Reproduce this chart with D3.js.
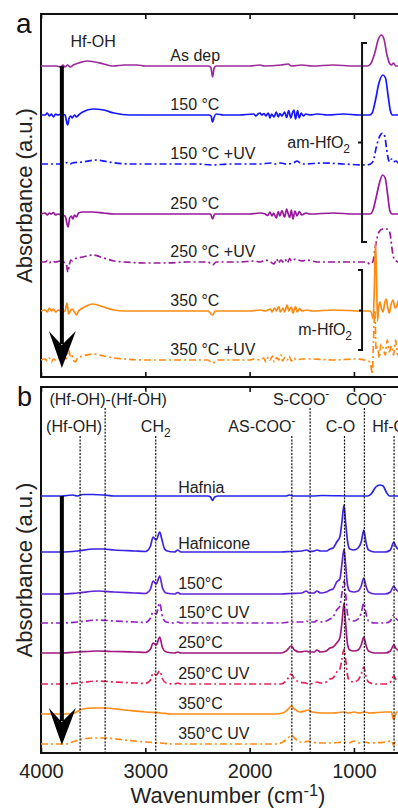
<!DOCTYPE html>
<html>
<head>
<meta charset="utf-8">
<script src="https://cdn.jsdelivr.net/npm/d3@7.9.0/dist/d3.min.js"></script>
<style>
  body { margin: 0; background: #fff; }
  svg { display: block; font-family: 'Liberation Sans', Arial, sans-serif; }
</style>
</head>
<body>
<svg id="chart"></svg>
<script>
// ---- panel a : [wavenumber, absorbance] ----
const asDep = [[4000,0],[3850,0],[3810,-0.01],[3790,0.01],[3770,-0.01],[3745,0.01],[3720,-0.01],[3690,0.01],[3640,0.03],[3560,0.05],[3480,0.04],[3400,0.02],[3310,0],[3200,0.01],[3080,0.01],[3000,0],[2500,0],[2390,0],[2370,-0.02],[2355,-0.11],[2340,-0.02],[2320,0],[2000,0],[1900,0.01],[1860,0],[1700,0.01],[1630,0.02],[1600,0],[1500,0.01],[1400,0],[1200,0.01],[1000,0],[870,0],[840,0.02],[800,0.13],[765,0.27],[738,0.31],[712,0.27],[685,0.12],[660,0.03],[640,0.01],[620,0.03],[600,0],[400,0]];
const a150 = [[4000,0],[3960,0],[3940,0.02],[3920,-0.01],[3900,0.01],[3880,-0.02],[3860,0.01],[3840,0],[3800,0.01],[3770,0],[3745,-0.10],[3730,-0.03],[3715,-0.01],[3700,-0.03],[3680,0],[3660,-0.02],[3640,0],[3600,0.03],[3500,0.06],[3400,0.05],[3300,0.02],[3150,0],[2600,0],[2390,0],[2370,-0.01],[2355,-0.07],[2340,-0.02],[2320,0.01],[2250,0],[2100,0],[1960,0.01],[1940,-0.01],[1920,0.01],[1900,0.02],[1885,0],[1860,0.015],[1845,-0.01],[1820,0.02],[1805,-0.03],[1790,0.01],[1765,-0.02],[1745,0.03],[1725,-0.02],[1710,0.015],[1690,-0.01],[1665,0.03],[1645,-0.025],[1625,0.045],[1605,-0.03],[1590,0.02],[1575,0.05],[1560,-0.04],[1540,0.045],[1525,-0.03],[1505,0.02],[1485,-0.01],[1460,0.01],[1420,0],[1350,0.01],[1250,0],[1100,0.01],[950,0],[850,0],[825,0.02],[795,0.14],[760,0.32],[722,0.40],[697,0.37],[672,0.19],[650,0.04],[630,0],[400,0]];
const a150uv = [[4000,0],[3900,0],[3780,0],[3765,0.01],[3745,0.015],[3720,0],[3700,0.01],[3600,0.02],[3470,0.04],[3350,0.02],[3150,0],[2500,0],[2355,-0.01],[2200,0],[1900,0],[1800,0.01],[1760,0],[1700,0.01],[1650,0],[1580,0.01],[1545,0.03],[1515,0.01],[1480,0],[1300,0.01],[1100,0],[880,-0.01],[840,0],[815,0.03],[785,0.17],[752,0.28],[725,0.31],[705,0.28],[685,0.14],[668,0.04],[655,0.02],[640,0.05],[622,0.02],[600,0.03],[560,0],[400,0]];
const a250 = [[4000,0],[3960,0.01],[3940,-0.01],[3920,0.01],[3900,0],[3880,0.015],[3860,-0.01],[3840,0],[3800,-0.01],[3770,-0.02],[3740,-0.13],[3725,-0.04],[3710,-0.02],[3695,-0.05],[3680,-0.01],[3660,-0.03],[3640,0.01],[3600,0.02],[3500,0.02],[3400,0.01],[3300,0],[2400,0],[2375,0],[2355,-0.05],[2335,0],[2000,0],[1900,0.01],[1850,0],[1825,-0.015],[1805,0.02],[1785,-0.02],[1770,0.01],[1745,-0.04],[1725,0.025],[1710,-0.02],[1690,0.035],[1665,-0.03],[1645,0.05],[1630,0],[1615,-0.035],[1600,0.04],[1585,-0.05],[1565,0.03],[1545,-0.02],[1525,0.025],[1500,-0.01],[1460,0.01],[1420,0],[1200,0.01],[1000,0],[845,0],[820,0.03],[790,0.15],[758,0.30],[725,0.39],[700,0.36],[675,0.18],[655,0.03],[635,0],[400,0]];
const a250uv = [[4000,0],[3960,0],[3940,0.015],[3920,-0.01],[3900,0.01],[3860,0],[3820,0.01],[3790,0],[3760,-0.01],[3742,-0.10],[3728,-0.03],[3715,0.02],[3700,0.01],[3680,0.03],[3600,0.05],[3500,0.07],[3400,0.04],[3300,0.01],[3200,0],[3000,-0.01],[2800,-0.01],[2600,0],[2400,0],[2355,-0.03],[2320,0],[2100,0],[1950,0.01],[1900,0],[1850,0.02],[1800,0],[1765,-0.02],[1740,0.03],[1725,-0.01],[1700,0.02],[1680,0],[1660,0.03],[1640,-0.01],[1615,0.035],[1600,0.01],[1560,0.03],[1500,0.01],[1450,0.02],[1350,0],[1200,0],[880,0],[845,-0.02],[820,0],[790,0.18],[760,0.30],[725,0.33],[680,0.33],[655,0.29],[630,0.10],[610,0.02],[560,0],[400,0]];
const a350 = [[4000,0],[3960,0.01],[3940,-0.01],[3920,0.03],[3900,0],[3880,0.02],[3860,-0.01],[3830,0.01],[3800,-0.01],[3770,0],[3750,0.08],[3735,-0.03],[3720,0],[3700,0.02],[3680,-0.01],[3660,-0.04],[3640,0],[3600,0.03],[3500,0.07],[3400,0.04],[3300,0.01],[3200,0],[2400,0],[2355,-0.04],[2330,0],[2000,0],[1900,0.01],[1850,0],[1800,0.02],[1785,-0.01],[1760,0.03],[1745,0],[1720,0.045],[1705,-0.01],[1680,0.03],[1665,-0.01],[1640,0.06],[1625,0],[1600,0.04],[1585,-0.02],[1560,0.045],[1545,-0.01],[1520,0.025],[1500,0],[1450,0.01],[1400,0],[1200,0.01],[900,0],[845,0],[828,-0.03],[815,-0.08],[805,0.2],[793,0.69],[783,0.3],[773,-0.1],[763,0.04],[750,0.09],[735,0.02],[720,-0.01],[705,0.08],[690,0.12],[675,0.03],[660,-0.02],[645,0.06],[625,0.11],[605,0.03],[590,0.05],[575,0.1],[560,0.05],[400,0]];
const a350uv = [[4000,0],[3960,0.01],[3940,-0.01],[3920,0.02],[3900,-0.02],[3880,0.01],[3860,0],[3840,0.02],[3800,0],[3780,0.03],[3760,0.01],[3735,0.1],[3720,0.04],[3705,0.06],[3690,0],[3670,-0.02],[3650,0.02],[3600,0.04],[3500,0.06],[3400,0.04],[3300,0.02],[3200,0.01],[3000,0],[2400,0],[2355,-0.03],[2300,0],[2000,0],[1950,0.01],[1900,0],[1865,0.02],[1845,-0.02],[1820,0.03],[1805,0],[1780,0.04],[1765,-0.02],[1740,0.025],[1720,0],[1700,0.05],[1685,-0.01],[1660,0.03],[1640,0],[1620,0.04],[1600,-0.01],[1580,0.02],[1550,0],[1500,0.01],[1400,0.01],[1200,0],[1000,0.01],[900,0],[860,-0.01],[838,-0.05],[825,-0.14],[812,0.2],[800,0.5],[787,0.1],[772,0.13],[757,0.02],[740,0.16],[720,0.12],[700,0.05],[680,0.2],[660,0.08],[640,0.14],[620,0.05],[600,0.2],[580,0.05],[560,0.08],[400,0]];

const namesA = ['As dep', '150 °C', '150 °C +UV', '250 °C', '250 °C +UV', '350 °C', '350 °C +UV'];
const seriesA = [asDep, a150, a150uv, a250, a250uv, a350, a350uv];
const offsetA = [3.11, 2.62, 2.13, 1.63, 1.15, 0.66, 0.17];
const colorA = ['#9b2b9b', '#1616ff', '#1616ff', '#99199c', '#99199c', '#ff8a12', '#ff8a12'];
const dashA = [false, false, true, false, true, false, true];

// ---- panel b ----
const hafnia = [[4000,0],[3800,0],[3700,0.01],[3650,0],[3600,0.015],[3500,0.015],[3400,0.01],[3300,0],[2400,0],[2375,-0.01],[2355,-0.045],[2335,-0.01],[2300,0],[1650,0],[1620,0.01],[1580,0],[1400,0],[1300,0.005],[1000,0],[870,0],[835,0.02],[790,0.09],[750,0.11],[720,0.10],[690,0.04],[660,0],[400,0]];
const hafnicone = [[4000,0],[3800,0],[3650,0.01],[3500,0.03],[3400,0.03],[3300,0.02],[3100,0.01],[3000,0.005],[2985,0.01],[2950,0.06],[2925,0.15],[2895,0.12],[2862,0.20],[2840,0.12],[2815,0.03],[2790,0.01],[2720,0],[2688,0.02],[2660,0],[2300,0],[1700,0],[1600,0.005],[1500,0.01],[1455,0.02],[1420,0.005],[1380,0.01],[1355,0.02],[1320,0.01],[1260,0.01],[1230,0.03],[1200,0.04],[1165,0.10],[1135,0.15],[1115,0.3],[1095,0.47],[1080,0.3],[1060,0.1],[1040,0.03],[1000,0.02],[960,0.04],[930,0.1],[905,0.22],[885,0.1],[860,0.02],[800,0],[700,0],[650,0.02],[618,0.1],[600,0.06],[560,0.02],[400,0]];
const b150 = [[4000,0],[3800,0],[3650,0.01],[3450,0.03],[3300,0.02],[3100,0.01],[3000,0.005],[2985,0.01],[2950,0.05],[2925,0.13],[2895,0.10],[2862,0.18],[2835,0.06],[2800,0.01],[2720,0],[2688,0.015],[2660,0],[2000,0],[1700,0],[1600,0.005],[1500,0.01],[1455,0.03],[1430,0.01],[1380,0.01],[1355,0.03],[1320,0.01],[1265,0.02],[1230,0.04],[1200,0.05],[1165,0.12],[1135,0.15],[1115,0.3],[1095,0.45],[1080,0.3],[1060,0.08],[1040,0.03],[1000,0.02],[960,0.03],[930,0.08],[905,0.16],[885,0.08],[860,0.02],[800,0],[700,0],[650,0.02],[618,0.08],[600,0.05],[560,0.02],[400,0]];
const b150uv = [[4000,0],[3800,0],[3650,0.01],[3450,0.03],[3300,0.02],[3100,0.01],[3000,0.005],[2985,0.01],[2950,0.05],[2925,0.11],[2895,0.09],[2862,0.20],[2835,0.06],[2800,0.01],[2720,0],[2688,0.01],[2660,0],[2000,0],[1700,0],[1600,0.01],[1500,0.01],[1455,0.02],[1430,0.01],[1380,0.01],[1355,0.025],[1320,0.01],[1265,0.02],[1230,0.04],[1200,0.06],[1165,0.13],[1135,0.17],[1115,0.3],[1095,0.42],[1080,0.3],[1060,0.08],[1040,0.03],[1000,0.02],[960,0.04],[930,0.1],[905,0.2],[885,0.1],[860,0.02],[800,0],[700,0],[650,0.02],[618,0.08],[600,0.05],[560,0.02],[400,0]];
const b250 = [[4000,0],[3800,0],[3650,0.01],[3450,0.02],[3300,0.015],[3100,0.01],[3000,0.005],[2985,0.01],[2950,0.04],[2925,0.10],[2895,0.08],[2862,0.16],[2835,0.05],[2800,0.01],[2720,0],[2688,0.01],[2660,0],[2000,0],[1700,0],[1650,0.02],[1600,0.07],[1570,0.03],[1520,0.01],[1455,0.02],[1430,0.01],[1380,0.01],[1355,0.03],[1320,0.01],[1265,0.02],[1230,0.05],[1200,0.06],[1165,0.1],[1135,0.15],[1115,0.3],[1095,0.5],[1080,0.3],[1060,0.08],[1040,0.03],[1000,0.02],[960,0.03],[930,0.08],[905,0.16],[885,0.08],[860,0.02],[800,0],[700,0],[650,0.02],[618,0.08],[600,0.05],[560,0.02],[400,0]];
const b250uv = [[4000,0],[3800,0],[3650,0.01],[3450,0.03],[3300,0.02],[3100,0.01],[3000,0.005],[2985,0.01],[2950,0.04],[2925,0.11],[2895,0.09],[2862,0.13],[2835,0.05],[2800,0.01],[2720,0],[2688,0.01],[2660,0],[2000,0],[1700,0],[1650,0.03],[1600,0.10],[1570,0.05],[1520,0.02],[1460,0.01],[1430,0],[1380,0.01],[1355,0.02],[1320,0.01],[1265,0.02],[1230,0.05],[1200,0.06],[1165,0.12],[1135,0.15],[1115,0.25],[1095,0.35],[1080,0.25],[1060,0.08],[1040,0.03],[1000,0.02],[960,0.04],[930,0.1],[905,0.17],[885,0.08],[860,0.02],[800,0],[700,0],[650,0.02],[618,0.08],[600,0.05],[560,0.02],[400,0]];
const b350 = [[4000,0],[3750,0],[3680,0.01],[3600,0.05],[3500,0.06],[3400,0.06],[3200,0.04],[3000,0.02],[2850,0.01],[2750,0],[2000,0],[1750,0],[1680,0.01],[1630,0.05],[1600,0.08],[1570,0.05],[1520,0.02],[1470,0.03],[1440,0.04],[1400,0.02],[1300,0.01],[1200,0.01],[1100,0.02],[1050,0.01],[1000,0.02],[950,0.01],[900,0.02],[850,0.01],[700,0.02],[640,0.02],[622,-0.05],[605,-0.02],[590,0.02],[400,0]];
const b350uv = [[4000,0],[3760,0],[3700,0.02],[3600,0.05],[3500,0.06],[3400,0.06],[3200,0.04],[3000,0.02],[2850,0.01],[2750,0],[2000,0],[1750,0],[1680,0.02],[1630,0.06],[1600,0.09],[1570,0.06],[1520,0.02],[1470,0.02],[1440,0.03],[1400,0.02],[1300,0.01],[1200,0.01],[1100,0.02],[1050,0.01],[1000,0.03],[950,0.01],[900,0.02],[850,0.01],[700,0.02],[640,0.03],[620,-0.01],[605,0.02],[400,0]];

const namesB = ['Hafnia', 'Hafnicone', '150°C', '150°C UV', '250°C', '250°C UV', '350°C', '350°C UV'];
const seriesB = [hafnia, hafnicone, b150, b150uv, b250, b250uv, b350, b350uv];
const offsetB = [2.57, 2.01, 1.59, 1.30, 1.00, 0.69, 0.39, 0.09];
const colorB = ['#2424e8', '#3a24e2', '#5e24d8', '#9420c2', '#a3177f', '#e3245a', '#ff8c1a', '#ff8c1a'];
const dashB = [false, false, false, true, false, true, false, true];

// band assignments (dotted lines in b)
const bandWn = [3625, 3385, 2900, 1595, 1420, 1090, 900, 615];
const tickValues = [4000, 3000, 2000, 1000];

const width = 398, height = 808;
const svg = d3.select('#chart').attr('width', width).attr('height', height);

const x = d3.scaleLinear().domain([4000, 400]).range([41, 416.5]);
const yA = d3.scaleLinear().domain([0, 3.63]).range([377, 14]);
const yB = d3.scaleLinear().domain([0, 3.66]).range([753, 387]);

function richText(sel, parts) {
  parts.forEach((p) => {
    const t = sel.append('tspan').text(p.t);
    if (p.sub) t.attr('font-size', '0.75em').attr('dy', 5);
    if (p.sup) t.attr('font-size', '0.75em').attr('dy', -7);
    if (p.back) t.attr('dy', p.back);
  });
}

function drawFrame(y, showLabels) {
  const [y0, y1] = y.range();
  svg.append('rect')
    .attr('x', x(4000)).attr('y', y1)
    .attr('width', 420).attr('height', y0 - y1)
    .attr('fill', 'none').attr('stroke', '#111').attr('stroke-width', 2);

  const bottom = svg.append('g').attr('transform', `translate(0,${y0})`)
    .call(d3.axisBottom(x).tickValues(tickValues).tickSizeInner(-5).tickSizeOuter(0).tickPadding(11)
      .tickFormat(showLabels ? d3.format('d') : ''));
  const top = svg.append('g').attr('transform', `translate(0,${y1})`)
    .call(d3.axisTop(x).tickValues(tickValues).tickSizeInner(-5).tickSizeOuter(0).tickFormat(''));
  [bottom, top].forEach((g) => {
    g.select('.domain').remove();
    g.selectAll('line').attr('stroke', '#111').attr('stroke-width', 1.6);
    g.selectAll('text').attr('font-size', 20).attr('fill', '#222').attr('font-family', 'Liberation Sans, Arial, sans-serif');
  });

  svg.append('text')
    .attr('transform', `translate(32,${(y0 + y1) / 2}) rotate(-90)`)
    .attr('text-anchor', 'middle').attr('font-size', 22).attr('fill', '#222')
    .text('Absorbance (a.u.)');
}

function drawTraces(y, series, offsets, colors, dashes) {
  const line = d3.line().x((d) => x(d[0])).y((d) => y(d[1])).curve(d3.curveMonotoneX);
  svg.append('g').selectAll('path')
    .data(series.map((s, i) => ({ pts: s.map((p) => [p[0], p[1] + offsets[i]]), i })))
    .join('path')
    .attr('d', (d) => line(d.pts))
    .attr('fill', 'none')
    .attr('stroke', (d) => colors[d.i])
    .attr('stroke-width', 1.7)
    .attr('stroke-dasharray', (d) => (dashes[d.i] ? '7,3,2,3' : null));
}

function drawArrow(y0, yTip) {
  const ax = x(3800);
  svg.append('line')
    .attr('x1', ax).attr('x2', ax).attr('y1', y0).attr('y2', yTip - 24)
    .attr('stroke', '#000').attr('stroke-width', 4);
  svg.append('path')
    .attr('d', `M${ax},${yTip} L${ax - 13},${yTip - 37} Q${ax - 4},${yTip - 27} ${ax},${yTip - 23} Q${ax + 4},${yTip - 27} ${ax + 14},${yTip - 37} Z`)
    .attr('fill', '#000');
}

// ---------- panel a ----------
drawFrame(yA, false);
drawTraces(yA, seriesA, offsetA, colorA, dashA);

svg.append('g').selectAll('text').data(namesA).join('text')
  .attr('x', x(2760))
  .attr('y', (d, i) => yA(offsetA[i]) - 5)
  .attr('font-size', 16).attr('fill', '#222')
  .text((d) => d);

svg.append('text').attr('x', x(3500)).attr('y', 47).attr('text-anchor', 'middle')
  .attr('font-size', 16).attr('fill', '#222').text('Hf-OH');

drawArrow(yA(offsetA[0]), yA(0.09));

// brackets
const bx = x(922);
svg.append('path')
  .attr('d', `M${bx + 5},${yA(3.34)} H${bx} V${yA(1.35)} H${bx + 5} M${bx},${yA(2.345)} H${bx - 4}`)
  .attr('fill', 'none').attr('stroke', '#111').attr('stroke-width', 2);
svg.append('path')
  .attr('d', `M${bx - 4},${yA(1.07)} H${bx} V${yA(0.27)} H${bx - 4} M${bx},${yA(0.665)} H${bx - 3}`)
  .attr('fill', 'none').attr('stroke', '#111').attr('stroke-width', 2);

richText(svg.append('text').attr('x', bx - 12).attr('y', yA(2.29)).attr('text-anchor', 'end')
  .attr('font-size', 16).attr('fill', '#222'), [{ t: 'am-HfO' }, { t: '2', sub: true }]);
richText(svg.append('text').attr('x', bx - 10).attr('y', yA(0.42)).attr('text-anchor', 'end')
  .attr('font-size', 16).attr('fill', '#222'), [{ t: 'm-HfO' }, { t: '2', sub: true }]);

svg.append('text').attr('x', 16).attr('y', 33).attr('font-size', 28).attr('fill', '#111').text('a');

// ---------- panel b ----------
drawFrame(yB, true);
drawTraces(yB, seriesB, offsetB, colorB, dashB);

svg.append('g').selectAll('text').data(namesB).join('text')
  .attr('x', x(2685))
  .attr('y', (d, i) => yB(offsetB[i]) - (i < 2 ? 3 : 5))
  .attr('font-size', 16).attr('fill', '#222')
  .text((d) => d);

// band lines + labels
const bandRow = [2, 1, 2, 2, 1, 2, 1, 2];
svg.append('g').selectAll('line').data(bandWn).join('line')
  .attr('x1', (d) => x(d)).attr('x2', (d) => x(d))
  .attr('y1', (d, i) => (bandRow[i] === 1 ? 408 : 436)).attr('y2', yB(0))
  .attr('stroke', '#111').attr('stroke-width', 1.2).attr('stroke-dasharray', '2,1.4');

const bandText = [
  { wn: 3625, dx: -6, row: 2, parts: [{ t: '(Hf-OH)' }] },
  { wn: 3385, dx: 3, row: 1, parts: [{ t: '(Hf-OH)-(Hf-OH)' }] },
  { wn: 2900, dx: 0, row: 2, parts: [{ t: 'CH' }, { t: '2', sub: true }] },
  { wn: 1595, dx: -30, row: 2, parts: [{ t: 'AS-COO' }, { t: '-', sup: true }] },
  { wn: 1420, dx: -9, row: 1, parts: [{ t: 'S-COO' }, { t: '-', sup: true }] },
  { wn: 1090, dx: -4, row: 2, parts: [{ t: 'C-O' }] },
  { wn: 900, dx: 2, row: 1, parts: [{ t: 'COO' }, { t: '-', sup: true }] },
  { wn: 615, dx: -5, row: 2, parts: [{ t: 'Hf-O' }] },
];
bandText.forEach((b) => {
  const t = svg.append('text')
    .attr('x', x(b.wn) + b.dx).attr('y', b.row === 1 ? 405 : 432)
    .attr('text-anchor', 'middle').attr('font-size', 16).attr('fill', '#222')
    .attr('stroke', '#fff').attr('stroke-width', 3).attr('paint-order', 'stroke');
  richText(t, b.parts);
});

drawArrow(yB(offsetB[0]), yB(0.08));

svg.append('text').attr('x', 17).attr('y', 406).attr('font-size', 27).attr('fill', '#111').text('b');

richText(svg.append('text').attr('x', 228).attr('y', 803).attr('text-anchor', 'middle')
  .attr('font-size', 22).attr('fill', '#222'),
  [{ t: 'Wavenumber (cm' }, { t: '-1', sup: true }, { t: ')', back: 7 }]);
</script>
</body>
</html>
